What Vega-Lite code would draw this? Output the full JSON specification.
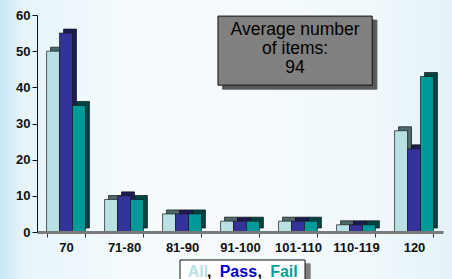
{
  "$schema": "https://vega.github.io/schema/vega-lite/v6.json",
  "autosize": {"type": "none"},
  "padding": {"left": 37, "top": 15, "right": 9, "bottom": 47},
  "width": 406,
  "height": 217,
  "background": "#f4fafd",
  "config": {"view": {"stroke": null}, "font": "Liberation Sans"},
  "datasets": {
    "bars": [
      {"range": "70", "group": "All", "count": 50},
      {"range": "70", "group": "Pass", "count": 55},
      {"range": "70", "group": "Fail", "count": 35},
      {"range": "71-80", "group": "All", "count": 9},
      {"range": "71-80", "group": "Pass", "count": 10},
      {"range": "71-80", "group": "Fail", "count": 9},
      {"range": "81-90", "group": "All", "count": 5},
      {"range": "81-90", "group": "Pass", "count": 5},
      {"range": "81-90", "group": "Fail", "count": 5},
      {"range": "91-100", "group": "All", "count": 3},
      {"range": "91-100", "group": "Pass", "count": 3},
      {"range": "91-100", "group": "Fail", "count": 3},
      {"range": "101-110", "group": "All", "count": 3},
      {"range": "101-110", "group": "Pass", "count": 3},
      {"range": "101-110", "group": "Fail", "count": 3},
      {"range": "110-119", "group": "All", "count": 2},
      {"range": "110-119", "group": "Pass", "count": 2},
      {"range": "110-119", "group": "Fail", "count": 2},
      {"range": "120", "group": "All", "count": 28},
      {"range": "120", "group": "Pass", "count": 23},
      {"range": "120", "group": "Fail", "count": 43}
    ]
  },
  "layer": [
    {
      "data": {"values": [{"x": -0.64, "x2": 7.16, "y": 64.2, "y2": -13.2}]},
      "mark": {"type": "rect", "color": {"gradient": "linear", "x1": 0, "x2": 1, "y1": 0, "y2": 0, "stops": [{"offset": 0, "color": "#c6e6f3"}, {"offset": 0.05, "color": "#e6f4fa"}, {"offset": 0.3, "color": "#f6fbfd"}, {"offset": 0.8, "color": "#f2f9fc"}, {"offset": 1, "color": "#e3f2f8"}]}},
      "encoding": {
        "x": {"field": "x", "type": "quantitative", "scale": {"domain": [0, 7], "nice": false, "zero": false}, "axis": null},
        "x2": {"field": "x2"},
        "y": {"field": "y", "type": "quantitative", "scale": {"domain": [0, 60], "nice": false, "zero": false}, "axis": null},
        "y2": {"field": "y2"}
      }
    },
    {
      "data": {"name": "bars"},
      "mark": {"type": "bar", "stroke": "#111111", "strokeWidth": 0.7},
      "encoding": {
        "x": {"field": "range", "type": "nominal", "sort": null,
          "scale": {"paddingInner": 0.33, "paddingOuter": 0.165}, "axis": null},
        "xOffset": {"field": "group", "type": "nominal", "sort": ["All", "Pass", "Fail"], "scale": {"range": [4, 42.86]}},
        "y": {"field": "count", "type": "quantitative",
          "scale": {"domain": [-1.1, 58.9], "nice": false, "zero": false}, "axis": null},
        "color": {"field": "group", "type": "nominal", "sort": ["All", "Pass", "Fail"],
          "scale": {"domain": ["All", "Pass", "Fail"], "range": ["#4f6a6c", "#1c1c52", "#004444"]}, "legend": null}
      }
    },
    {
      "data": {"name": "bars"},
      "mark": {"type": "bar", "stroke": "#1a1a1a", "strokeWidth": 0.7},
      "encoding": {
        "x": {"field": "range", "type": "nominal", "sort": null,
          "scale": {"paddingInner": 0.33, "paddingOuter": 0.165},
          "axis": {"zindex": 1, "title": null, "labelAngle": 0, "labelFont": "Liberation Sans", "labelFontWeight": "bold", "labelFontSize": 13, "labelColor": "#111", "tickBand": "extent", "tickColor": "#333", "tickSize": 5, "labelPadding": 4, "domainColor": "#7a7a7a", "domainWidth": 3}},
        "xOffset": {"field": "group", "type": "nominal", "sort": ["All", "Pass", "Fail"]},
        "y": {"field": "count", "type": "quantitative",
          "scale": {"domain": [0, 60], "nice": false, "zero": false},
          "axis": {"zindex": 1, "title": null, "values": [0, 10, 20, 30, 40, 50, 60], "grid": false, "labelFont": "Liberation Sans", "labelFontWeight": "bold", "labelFontSize": 13, "labelColor": "#111", "tickColor": "#111", "domainColor": "#111", "tickSize": 5, "labelPadding": 2}},
        "color": {"field": "group", "type": "nominal", "sort": ["All", "Pass", "Fail"],
          "scale": {"domain": ["All", "Pass", "Fail"], "range": ["#b9e1e4", "#333399", "#009999"]}, "legend": null}
      }
    },
    {
      "data": {"values": [
        {"kind": "shadow", "x": 3.2, "x2": 5.86, "y": 39.5, "y2": 58.6},
        {"kind": "box", "x": 3.12, "x2": 5.78, "y": 40.6, "y2": 59.7},
        {"kind": "lshadow", "x": 2.55, "x2": 4.71, "y": -8.8, "y2": -16},
        {"kind": "lbox", "x": 2.466, "x2": 4.621, "y": -7.74, "y2": -16}
      ]},
      "mark": {"type": "rect", "strokeWidth": 1},
      "encoding": {
        "x": {"field": "x", "type": "quantitative", "scale": {"domain": [0, 7], "nice": false, "zero": false}, "axis": null},
        "x2": {"field": "x2"},
        "y": {"field": "y", "type": "quantitative", "scale": {"domain": [0, 60], "nice": false, "zero": false}, "axis": null},
        "y2": {"field": "y2"},
        "fill": {"field": "kind", "type": "nominal", "scale": {"domain": ["shadow", "box", "lshadow", "lbox"], "range": ["#5a5a5a", "#808080", "#808080", "#ffffff"]}, "legend": null},
        "stroke": {"field": "kind", "type": "nominal", "scale": {"domain": ["shadow", "box", "lshadow", "lbox"], "range": ["#5a5a5a", "#111111", "#808080", "#111111"]}, "legend": null}
      }
    },
    {
      "data": {"values": [{"x": 4.45, "y": 55.6, "label": "Average number\nof items:\n94"}]},
      "mark": {"type": "text", "lineBreak": "\n", "lineHeight": 19, "fontSize": 17.5, "font": "Liberation Sans", "color": "#000", "baseline": "top", "align": "center", "dy": -10},
      "encoding": {
        "x": {"field": "x", "type": "quantitative", "scale": {"domain": [0, 7], "nice": false, "zero": false}, "axis": null},
        "y": {"field": "y", "type": "quantitative", "scale": {"domain": [0, 60], "nice": false, "zero": false}, "axis": null},
        "text": {"field": "label"}
      }
    },
    {
      "data": {"values": [
        {"x": 2.60, "y": -12.44, "label": "All", "c": "a"},
        {"x": 2.93, "y": -12.44, "label": ",", "c": "k"},
        {"x": 3.15, "y": -12.44, "label": "Pass", "c": "p"},
        {"x": 3.80, "y": -12.44, "label": ",", "c": "k"},
        {"x": 4.02, "y": -12.44, "label": "Fail", "c": "f"}
      ]},
      "mark": {"type": "text", "fontSize": 16, "fontWeight": "bold", "font": "Liberation Sans", "align": "left", "baseline": "alphabetic"},
      "encoding": {
        "x": {"field": "x", "type": "quantitative", "scale": {"domain": [0, 7], "nice": false, "zero": false}, "axis": null},
        "y": {"field": "y", "type": "quantitative", "scale": {"domain": [0, 60], "nice": false, "zero": false}, "axis": null},
        "text": {"field": "label"},
        "color": {"field": "c", "type": "nominal", "scale": {"domain": ["a", "k", "p", "f"], "range": ["#b9e1e4", "#000000", "#0000cc", "#00a0a0"]}, "legend": null}
      }
    }
  ],
  "resolve": {"scale": {"x": "independent", "y": "independent", "xOffset": "independent", "color": "independent", "fill": "independent", "stroke": "independent"}}
}
